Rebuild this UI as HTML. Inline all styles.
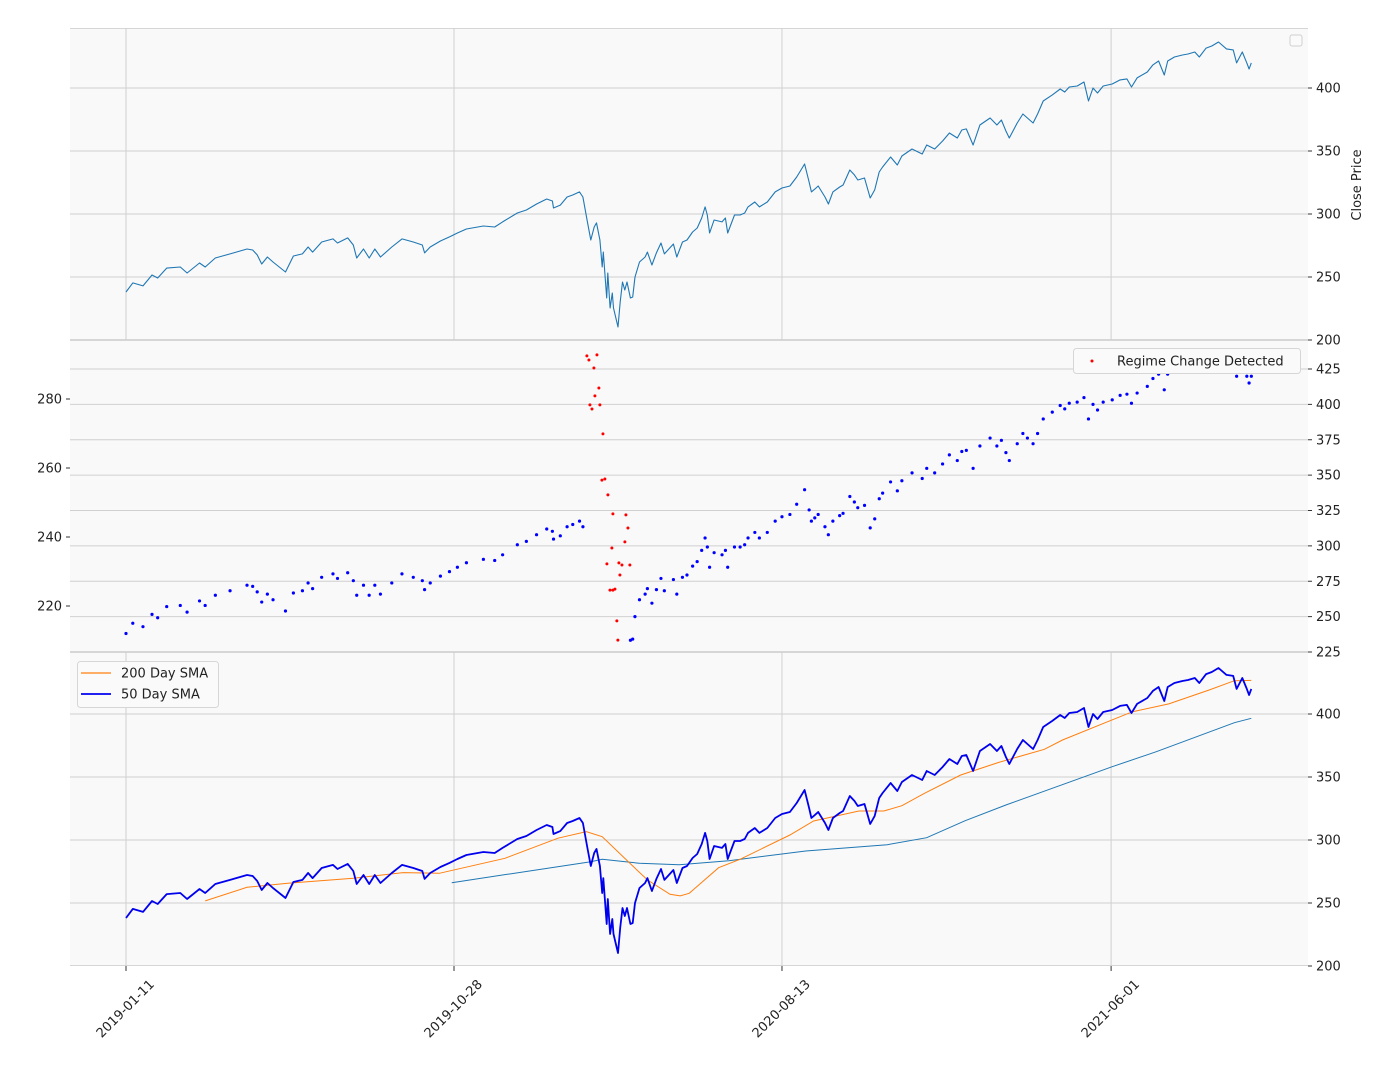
<!DOCTYPE html>
<html><head><meta charset="utf-8">
<style>
html,body{margin:0;padding:0;background:#fff;}
svg{display:block;font-family:"DejaVu Sans","Liberation Sans",sans-serif;}
</style></head>
<body>
<svg id="chart" width="1383" height="1076" viewBox="0 0 1383 1076" xmlns="http://www.w3.org/2000/svg">
<rect x="0" y="0" width="1383" height="1076" fill="#ffffff"/>
<g id="bg"></g><g id="grid"></g><g id="marks"></g><g id="axes"></g><g id="legends"></g>
</svg>
<script>
// ---- data ----
const xTickLabels = ["2019-01-11","2019-10-28","2020-08-13","2021-06-01"];
const xTickDays = [0,290,580,871];
const days = [0,6,15,23,28,36,48,54,65,70,79,92,107,112,116,120,125,130,141,148,156,161,165,173,183,187,196,201,204,210,215,220,225,235,244,254,262,264,269,278,286,293,301,316,326,333,346,354,363,372,377,378,384,390,395,401,404,408,411,414,416,419,421,422,425,426,428,430,431,435,437,439,441,443,446,448,450,454,459,461,465,469,473,476,484,487,492,496,501,505,509,512,514,516,520,527,530,532,538,543,547,550,556,560,567,574,580,587,593,600,604,606,609,612,618,621,625,631,634,640,644,647,653,658,662,666,669,676,682,686,695,704,708,715,722,728,735,739,743,749,755,764,770,774,778,781,788,793,797,802,806,811,819,826,830,834,841,847,851,855,859,864,872,879,885,889,894,903,908,913,918,921,927,934,939,945,949,955,960,966,973,979,982,987,991,993,995];
const closes = [238.1,245.3,242.9,251.6,249.2,257.1,257.9,253.2,261.1,257.9,265.1,268.3,272.2,271.4,267.5,260.3,265.9,261.9,254.0,266.7,268.3,273.8,269.8,277.8,280.2,277.0,281.0,275.4,265.1,272.2,265.1,272.2,265.9,273.8,280.2,277.8,275.4,269.1,273.8,278.6,281.8,284.9,288.1,290.5,289.7,293.7,300.8,303.2,307.9,311.9,310.3,304.8,307.1,313.5,315.1,317.5,313.5,293.7,279.4,289.7,292.9,279.4,257.9,269.8,233.3,253.2,225.4,237.3,225.4,210.3,230.2,246.0,239.7,246.0,233.3,234.1,250.0,261.9,265.9,269.8,259.5,269.1,277.0,268.3,276.2,265.9,277.8,279.4,285.7,288.9,296.8,305.6,299.2,284.9,295.2,293.7,296.8,284.9,299.2,299.2,300.8,305.6,309.5,305.6,309.5,317.5,320.6,322.2,329.4,339.7,325.4,317.5,319.8,322.2,313.5,307.9,317.5,321.4,323.0,334.9,331.0,327.0,328.6,312.7,319.1,333.3,337.3,345.2,338.9,346.0,351.6,347.6,354.8,351.6,357.9,364.3,360.3,366.7,367.5,354.8,370.6,376.2,370.6,374.6,365.9,360.3,372.2,379.4,376.2,372.2,379.4,389.7,394.5,399.2,396.8,400.8,401.6,404.8,389.7,400.0,396.0,401.6,403.2,406.4,407.2,400.8,408.0,412.7,418.3,421.4,410.3,421.4,424.6,426.2,427.0,428.6,424.6,431.7,433.3,436.5,431.0,430.2,419.9,428.6,419.9,415.1,419.9];
const regimeWindow = [406,446];
const regimeDays = [407.5,409.3,416.4,413.7,418.1,414.6,410.2,412,419,421.7,420.8,423.4,426.1,430.5,442,443.8,441.1,429.6,435.8,425.2,438.5,445.5,436.7,427.9,430.5,432.3,434,434.9];
const regimeVals = [292.5,291.3,292.8,289.0,283.2,280.9,278.3,277.1,278.3,269.9,256.5,256.8,252.2,246.7,246.4,242.6,238.6,236.8,232.5,232.2,231.9,231.9,229.0,224.6,224.6,224.9,215.7,210.1];
const smaOrangeDays = [70,107,143,201,245,277,335,382,407,421,447,461,481,490,498,524,543,587,608,648,670,686,706,738,771,812,828,868,890,922,958,980,995];
const smaOrangeVals = [251.7,262.5,265.6,269.6,274.1,273.6,285.5,301.4,306.6,302.6,280.2,268.3,256.9,255.6,257.7,278.0,284.7,304.0,315.1,323.0,323.0,327.2,337.1,351.6,361.4,372.0,379.4,393.9,401.8,408.0,419.1,426.4,426.7];
const smaTealDays = [288,411,421,454,489,533,601,673,708,742,778,872,911,980,995];
const smaTealVals = [266.1,282.8,284.7,281.5,280.4,283.6,291.3,296.3,301.8,315.3,327.8,358.2,370.1,393.1,396.6];
const p1Ticks = [200,250,300,350,400];
const p2RightTicks = [225,250,275,300,325,350,375,400,425];
const p2LeftTicks = [220,240,260,280];
const p3Ticks = [200,250,300,350,400];

// ---- scales ----
const X0=70, X1=1308;
const xs = d => 126 + d*1.131;
const y1 = v => 340 - (v-200)*1.26;
const y2r = v => 652 - (v-225)*1.415;
const y2l = v => 399 - (v-280)*3.45;
const y3 = v => 966 - (v-200)*1.26;
const NS="http://www.w3.org/2000/svg";
function mk(tag, attrs, parent){const e=document.createElementNS(NS,tag);for(const k in attrs)e.setAttribute(k,attrs[k]);parent.appendChild(e);return e;}
const gBg=document.getElementById('bg'),gGrid=document.getElementById('grid'),gMarks=document.getElementById('marks'),gAx=document.getElementById('axes'),gLeg=document.getElementById('legends');

// panels
[[28,340,'price-panel'],[340,652,'regime-panel'],[652,966,'sma-panel']].forEach(p=>{
  const r=mk('rect',{x:X0,y:p[0],width:X1-X0,height:p[1]-p[0],fill:'#f9f9f9'},gBg);
  
  
  mk('line',{x1:X0,x2:X1,y1:p[0]+0.5,y2:p[0]+0.5,stroke:'#d6d6d6','stroke-width':1},gGrid);
  mk('line',{x1:X0,x2:X1,y1:p[1]-0.5,y2:p[1]-0.5,stroke:'#d6d6d6','stroke-width':1},gGrid);
});
// vertical grid (panels 1,3)
xTickDays.forEach(d=>{
  const x=xs(d);
  [[28,340],[652,966]].forEach(r=>mk('line',{x1:x,x2:x,y1:r[0],y2:r[1],stroke:'#d0d0d0','stroke-width':1},gGrid));
  mk('line',{x1:x,x2:x,y1:966,y2:971,stroke:'#333','stroke-width':1},gAx);
});
xTickDays.forEach((d,i)=>{
  const x=xs(d);
  const t=mk('text',{x:0,y:0,'font-size':13,fill:'#222','text-anchor':'end',transform:`translate(${x+29},${985}) rotate(-45)`},gAx);
  t.textContent=xTickLabels[i];
  
  
});
function rightTicks(ticks, ys, top, bottom){
  ticks.forEach(v=>{
    const y=ys(v);
    if(y>top+0.5 && y<bottom-0.5) mk('line',{x1:X0,x2:X1,y1:y,y2:y,stroke:'#d0d0d0','stroke-width':1},gGrid);
    mk('line',{x1:X1,x2:X1+4,y1:y,y2:y,stroke:'#333','stroke-width':1},gAx);
    const t=mk('text',{x:X1+8,y:y+4.5,'font-size':13,fill:'#222'},gAx);
    t.textContent=v;
    
    
  });
}
rightTicks(p1Ticks,y1,28,340);
rightTicks(p2RightTicks,y2r,340,652);
rightTicks(p3Ticks,y3,652,966);
p2LeftTicks.forEach(v=>{
  const y=y2l(v);
  mk('line',{x1:X0-4,x2:X0,y1:y,y2:y,stroke:'#333','stroke-width':1},gAx);
  const t=mk('text',{x:X0-8,y:y+4.5,'font-size':13,fill:'#222','text-anchor':'end'},gAx);
  t.textContent=v;
  
  
});
const yl=mk('text',{x:0,y:0,'font-size':13,fill:'#222','text-anchor':'middle',transform:'translate(1361,185) rotate(-90)'},gAx);
yl.textContent='Close Price';



// series
function path(dArr,vArr,ys){let s='';const n=Math.min(dArr.length,vArr.length);for(let i=0;i<n;i++)s+=(i?'L':'M')+xs(dArr[i]).toFixed(1)+','+ys(vArr[i]).toFixed(1);return s;}
const l1=mk('path',{d:path(days,closes,y1),fill:'none',stroke:'#1f77b4','stroke-width':1.1,'stroke-linejoin':'round'},gMarks);


for(let i=0;i<Math.min(days.length,closes.length);i++){
  if(days[i]>regimeWindow[0]&&days[i]<regimeWindow[1])continue;
  const c=mk('circle',{cx:xs(days[i]),cy:y2r(closes[i]),r:1.6,fill:'#0000ff'},gMarks);
  
  
}
for(let i=0;i<regimeDays.length;i++){
  const c=mk('circle',{cx:xs(regimeDays[i]),cy:y2l(regimeVals[i]),r:1.5,fill:'#ff0000'},gMarks);
  
  
}
const lt=mk('path',{d:path(smaTealDays,smaTealVals,y3),fill:'none',stroke:'#1f77b4','stroke-width':1},gMarks);


const lo=mk('path',{d:path(smaOrangeDays,smaOrangeVals,y3),fill:'none',stroke:'#ff7f0e','stroke-width':1},gMarks);


const lb=mk('path',{d:path(days,closes,y3),fill:'none',stroke:'#0000ee','stroke-width':1.8,'stroke-linejoin':'round'},gMarks);



// legends
const e1=mk('rect',{x:1290,y:35,width:12,height:11,rx:2,fill:'#fafafa',stroke:'#d0d0d0'},gLeg);


const l2=mk('rect',{x:1073.5,y:348.5,width:227,height:25,rx:3,fill:'#fafafa',stroke:'#d6d6d6'},gLeg);


mk('circle',{cx:1092,cy:361,r:1.5,fill:'#ff0000'},gLeg);
const t2=mk('text',{x:1117,y:365.5,'font-size':13,fill:'#222'},gLeg);t2.textContent='Regime Change Detected';


const l3=mk('rect',{x:77.5,y:661.5,width:141,height:46,rx:3,fill:'#fafafa',stroke:'#d6d6d6'},gLeg);


mk('line',{x1:81,x2:111,y1:673,y2:673,stroke:'#ff7f0e','stroke-width':1.3},gLeg);
mk('line',{x1:81,x2:111,y1:694,y2:694,stroke:'#0000ee','stroke-width':1.8},gLeg);
const t3=mk('text',{x:121,y:677.5,'font-size':13,fill:'#222'},gLeg);t3.textContent='200 Day SMA';


const t4=mk('text',{x:121,y:698.5,'font-size':13,fill:'#222'},gLeg);t4.textContent='50 Day SMA';


</script>
</body></html>
